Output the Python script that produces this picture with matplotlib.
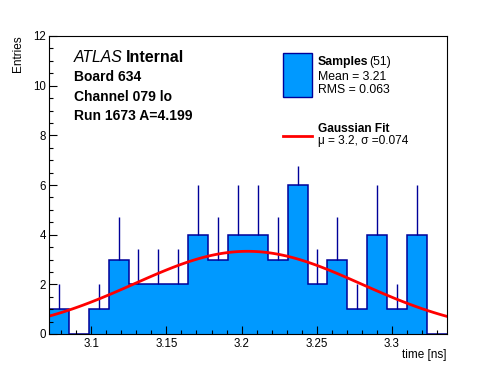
import numpy as np
import matplotlib
matplotlib.use('Agg')
import matplotlib.pyplot as plt
from matplotlib.ticker import MultipleLocator, FuncFormatter

plt.rcParams['font.family'] = ['Liberation Sans', 'DejaVu Sans']

# histogram: 20 bins over the axis range
x_lo, x_hi = 3.0718, 3.3366
counts = np.array([1, 0, 1, 3, 2, 2, 2, 4, 3, 4, 4, 3, 6, 2, 3, 1, 4, 1, 4, 0])
# upper error bars
errors = np.array([1, 0, 1, 1.73, 1.41, 1.41, 1.41, 2, 1.73, 2, 2, 1.73, 0.75,
                   1.41, 1.73, 1, 2, 1, 2, 0])
n_samples = 51
mean_txt = "3.21"
rms_txt = "0.063"

# gaussian fit parameters (curve) and legend text
fit_amp = 3.33
fit_mu = 3.204
fit_sigma = 0.0755
fit_txt = "\u03bc = 3.2, \u03c3 =0.074"

info_lines = ["Board 634", "Channel 079 lo", "Run 1673 A=4.199"]

fill_col = '#0099ff'
edge_col = '#000099'

W, H = 496, 372
fig = plt.figure(figsize=(W / 100, H / 100), dpi=100)
ax = fig.add_axes([49 / W, 1 - 334 / H, (446.7 - 49) / W, (334 - 36) / H])

edges = np.linspace(x_lo, x_hi, len(counts) + 1)
centers = 0.5 * (edges[:-1] + edges[1:])

ax.stairs(counts, edges, fill=True, color=fill_col, zorder=1)
ax.stairs(counts, edges, fill=False, color=edge_col, lw=1.1, zorder=2)

m = errors > 0
ax.vlines(centers[m], counts[m], counts[m] + errors[m],
          color=edge_col, lw=1.0, zorder=2)

xf = np.linspace(x_lo, x_hi, 120)
yf = fit_amp * np.exp(-0.5 * ((xf - fit_mu) / fit_sigma) ** 2)
ax.plot(xf, yf, color='red', lw=2, zorder=3)

ax.set_xlim(x_lo, x_hi)
ax.set_ylim(0, 12)
ax.xaxis.set_major_locator(MultipleLocator(0.05))
ax.xaxis.set_minor_locator(MultipleLocator(0.01))
ax.yaxis.set_major_locator(MultipleLocator(2))
ax.yaxis.set_minor_locator(MultipleLocator(0.5))
ax.xaxis.set_major_formatter(FuncFormatter(lambda v, p: f"{v:g}"))
ax.tick_params(which='both', direction='in', labelsize=8.3, width=0.8, color='black')
ax.tick_params(which='major', length=5.8)
ax.tick_params(which='minor', length=3)
ax.tick_params(axis='y', pad=2)
ax.tick_params(axis='x', pad=3)
for s in ax.spines.values():
    s.set_linewidth(0.8)
    s.set_zorder(5)
ax.set_axisbelow(False)

def px(x, y):
    return x / W, 1 - y / H

fig.text(*px(24, 35), "Entries", rotation=90, ha='right', va='top', fontsize=8.5)
fig.text(*px(446.7, 358), "time [ns]", ha='right', va='baseline', fontsize=8.5)

fig.text(*px(73.5, 62.3), "ATLAS", style='italic', fontsize=11.3, va='baseline')
fig.text(*px(126, 62.3), "Internal", weight='bold', fontsize=11.5, va='baseline')
for txt, yb in zip(info_lines, [81, 100.7, 120.3]):
    fig.text(*px(74, yb), txt, weight='bold', fontsize=10, va='baseline')

# legend, drawn by hand
leg_x0, leg_x1 = 283.3, 311.7
fig.patches.append(plt.Rectangle(px(leg_x0, 96.7), (leg_x1 - leg_x0) / W, (96.7 - 53.3) / H,
                                 transform=fig.transFigure, facecolor=fill_col,
                                 edgecolor=edge_col, lw=1.0))
fig.text(*px(317.7, 65), "Samples", weight='bold', fontsize=8.8, va='baseline')
fig.text(*px(369, 65), f"({n_samples})", fontsize=8.8, va='baseline')
fig.text(*px(317.7, 80), f"Mean = {mean_txt}", fontsize=8.8, va='baseline')
fig.text(*px(317.7, 93.3), f"RMS = {rms_txt}", fontsize=8.8, va='baseline')
fig.lines.append(plt.Line2D([leg_x0 / W, leg_x1 / W], [1 - 136 / H, 1 - 136 / H],
                            transform=fig.transFigure, color='red', lw=2))
fig.text(*px(317.7, 132.3), "Gaussian Fit", weight='bold', fontsize=8.6, va='baseline')
fig.text(*px(317.7, 144), fit_txt, fontsize=8.6, va='baseline')

fig.savefig('out.png', dpi=100, facecolor='white')
